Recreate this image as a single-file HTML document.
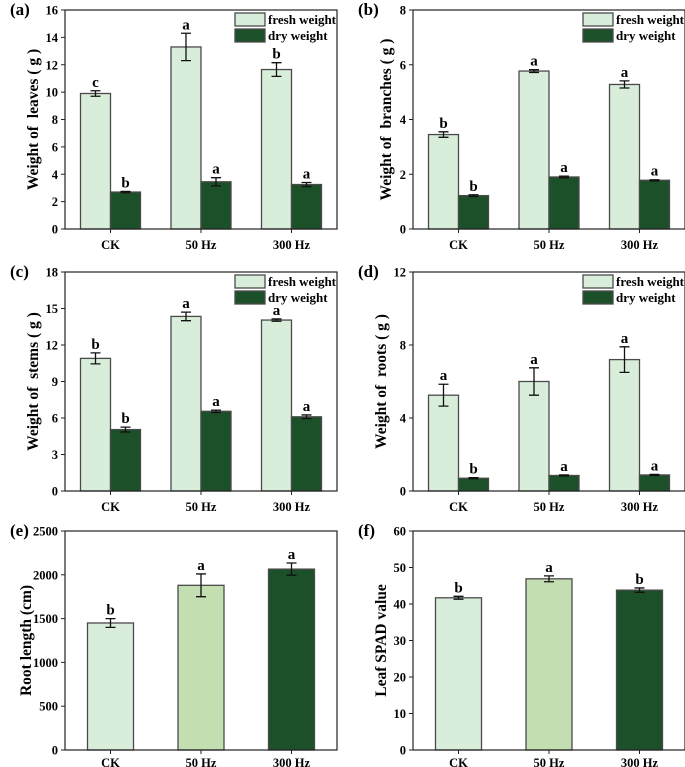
<!DOCTYPE html>
<html><head><meta charset="utf-8">
<style>
html,body{margin:0;padding:0;background:#fff;}
svg{display:block;font-family:"Liberation Serif",serif;font-weight:bold;}
.pre{white-space:pre;}
</style></head>
<body>
<svg id="fig" width="685" height="767" viewBox="0 0 685 767" xmlns="http://www.w3.org/2000/svg"></svg>
<script>
// ---- data ----
const categories = ["CK", "50 Hz", "300 Hz"];
// panel a: leaves
const aFresh = [9.9, 13.3, 11.65];
const aFreshErr = [0.2, 1.0, 0.5];
const aDry = [2.7, 3.45, 3.25];
const aDryErr = [0.05, 0.3, 0.15];
const aFreshLetters = ["c", "a", "b"];
const aDryLetters = ["b", "a", "a"];
const aTicks = [0, 2, 4, 6, 8, 10, 12, 14, 16];
// panel b: branches
const bFresh = [3.45, 5.77, 5.28];
const bFreshErr = [0.1, 0.05, 0.13];
const bDry = [1.22, 1.9, 1.78];
const bDryErr = [0.03, 0.03, 0.02];
const bFreshLetters = ["b", "a", "a"];
const bDryLetters = ["b", "a", "a"];
const bTicks = [0, 2, 4, 6, 8];
// panel c: stems
const cFresh = [10.9, 14.35, 14.05];
const cFreshErr = [0.45, 0.35, 0.1];
const cDry = [5.05, 6.55, 6.1];
const cDryErr = [0.2, 0.1, 0.15];
const cFreshLetters = ["b", "a", "a"];
const cDryLetters = ["b", "a", "a"];
const cTicks = [0, 3, 6, 9, 12, 15, 18];
// panel d: roots
const dFresh = [5.25, 6.0, 7.2];
const dFreshErr = [0.6, 0.75, 0.7];
const dDry = [0.7, 0.85, 0.88];
const dDryErr = [0.03, 0.03, 0.03];
const dFreshLetters = ["a", "a", "a"];
const dDryLetters = ["b", "a", "a"];
const dTicks = [0, 4, 8, 12];
// panel e: root length
const eVals = [1450, 1880, 2065];
const eErr = [50, 130, 70];
const eLetters = ["b", "a", "a"];
const eTicks = [0, 500, 1000, 1500, 2000, 2500];
// panel f: SPAD
const fVals = [41.7, 46.9, 43.8];
const fErr = [0.4, 0.8, 0.6];
const fLetters = ["b", "a", "b"];
const fTicks = [0, 10, 20, 30, 40, 50, 60];

const LIGHT = "#d9eeda", MID = "#c3deb0", DARK = "#1b5029", EDGE = "#4a4a4a";
const svg = document.getElementById("fig");
const NS = "http://www.w3.org/2000/svg";
function mk(tag, attrs, parent, text) {
  const e = document.createElementNS(NS, tag);
  for (const k in attrs) e.setAttribute(k, attrs[k]);
  if (text !== undefined) e.textContent = text;
  (parent || svg).appendChild(e);
  return e;
}

function panel(opt) {
  const g = mk("g", {});
  
  
  const L = opt.L, T = opt.T, B = opt.B, R = opt.L + 272;
  const max = opt.ticks[opt.ticks.length - 1];
  const y = v => B - (v / max) * (B - T);
  const cx = i => L + 45.5 + 90.5 * i;

  opt.ticks.forEach(t => {
    const tl = mk("line", {x1: L - 4, x2: L, y1: y(t), y2: y(t), stroke: "#222", "stroke-width": 1}, g);
    
    
    const lb = mk("text", {x: L - 7, y: y(t) + 4.5, "text-anchor": "end", "font-size": 12.5}, g, String(t));
    
    
  });
  categories.forEach((c, i) => {
    const tk = mk("line", {x1: cx(i), x2: cx(i), y1: B, y2: B + 4, stroke: "#222", "stroke-width": 1}, g);
    
    
    const lb = mk("text", {x: cx(i), y: B + opt.xOff, "text-anchor": "middle", "font-size": 12.5}, g, c);
    
    
  });

  function bar(x0, w, v, err, fill, letter, nm) {
    const r = mk("rect", {x: x0, y: y(v), width: w, height: B - y(v), fill: fill, stroke: EDGE, "stroke-width": 1.3}, g);
    
    
    const xc = x0 + w / 2;
    const eb = mk("path", {d: `M${xc - 5} ${y(v + err)}H${xc + 5}M${xc} ${y(v + err)}V${y(v - err)}M${xc - 5} ${y(v - err)}H${xc + 5}`, stroke: "#111", "stroke-width": 1.3, fill: "none"}, g);
    
    
    const lt = mk("text", {x: xc, y: y(v + err) - 4, "text-anchor": "middle", "font-size": 15}, g, letter);
    
    
  }

  if (opt.fresh) {
    categories.forEach((c, i) => {
      bar(cx(i) - 30, 30, opt.fresh[i], opt.freshErr[i], LIGHT, opt.freshLetters[i], 'bar-fresh-' + i);
      bar(cx(i), 30, opt.dry[i], opt.dryErr[i], DARK, opt.dryLetters[i], 'bar-dry-' + i);
    });
    const lx = L + 170;
    const lf = mk("rect", {x: lx, y: T + 3, width: 30, height: 13, fill: LIGHT, stroke: EDGE, "stroke-width": 1.3}, g);
    
    
    const lft = mk("text", {x: lx + 33, y: T + 14, "font-size": 13}, g, "fresh weight");
    
    
    const ld = mk("rect", {x: lx, y: T + 19, width: 30, height: 13, fill: DARK, stroke: EDGE, "stroke-width": 1.3}, g);
    
    
    const ldt = mk("text", {x: lx + 33, y: T + 30, "font-size": 13}, g, "dry weight");
    
    
  } else {
    const fills = [LIGHT, MID, DARK];
    categories.forEach((c, i) => {
      bar(cx(i) - 23, 46, opt.vals[i], opt.err[i], fills[i], opt.letters[i], 'bar-' + i);
    });
  }

  const fr = mk("rect", {x: L, y: T, width: R - L, height: B - T, fill: "none", stroke: "#222", "stroke-width": 1.2}, g);
  
  

  const yt = mk("text", {x: 0, y: 0, class: "pre", transform: `translate(${L - opt.tOff},${(T + B) / 2}) rotate(-90)`, "text-anchor": "middle", "font-size": 15.5}, g, opt.ytitle);
  
  
  const pl = mk("text", {x: opt.L - 55, y: T + 5, "font-size": 17}, g, opt.label);
  
  
}

panel({name: "panel-a-leaves", L: 65, T: 10, B: 229, tOff: 27, xOff: 20, ticks: aTicks, fresh: aFresh, freshErr: aFreshErr, dry: aDry, dryErr: aDryErr, freshLetters: aFreshLetters, dryLetters: aDryLetters, ytitle: "Weight of  leaves ( g )", label: "(a)"});
panel({name: "panel-b-branches", L: 413, T: 10, B: 229, tOff: 22, xOff: 20, ticks: bTicks, fresh: bFresh, freshErr: bFreshErr, dry: bDry, dryErr: bDryErr, freshLetters: bFreshLetters, dryLetters: bDryLetters, ytitle: "Weight of  branches ( g )", label: "(b)"});
panel({name: "panel-c-stems", L: 65, T: 272, B: 491, tOff: 27, xOff: 20, ticks: cTicks, fresh: cFresh, freshErr: cFreshErr, dry: cDry, dryErr: cDryErr, freshLetters: cFreshLetters, dryLetters: cDryLetters, ytitle: "Weight of  stems ( g )", label: "(c)"});
panel({name: "panel-d-roots", L: 413, T: 272, B: 491, tOff: 27, xOff: 20, ticks: dTicks, fresh: dFresh, freshErr: dFreshErr, dry: dDry, dryErr: dDryErr, freshLetters: dFreshLetters, dryLetters: dDryLetters, ytitle: "Weight of  roots ( g )", label: "(d)"});
panel({name: "panel-e-root-length", L: 65, T: 531, B: 750, tOff: 34, xOff: 17, ticks: eTicks, vals: eVals, err: eErr, letters: eLetters, ytitle: "Root length (cm)", label: "(e)"});
panel({name: "panel-f-spad", L: 413, T: 531, B: 750, tOff: 27, xOff: 17, ticks: fTicks, vals: fVals, err: fErr, letters: fLetters, ytitle: "Leaf SPAD value", label: "(f)"});
</script>
</body></html>
